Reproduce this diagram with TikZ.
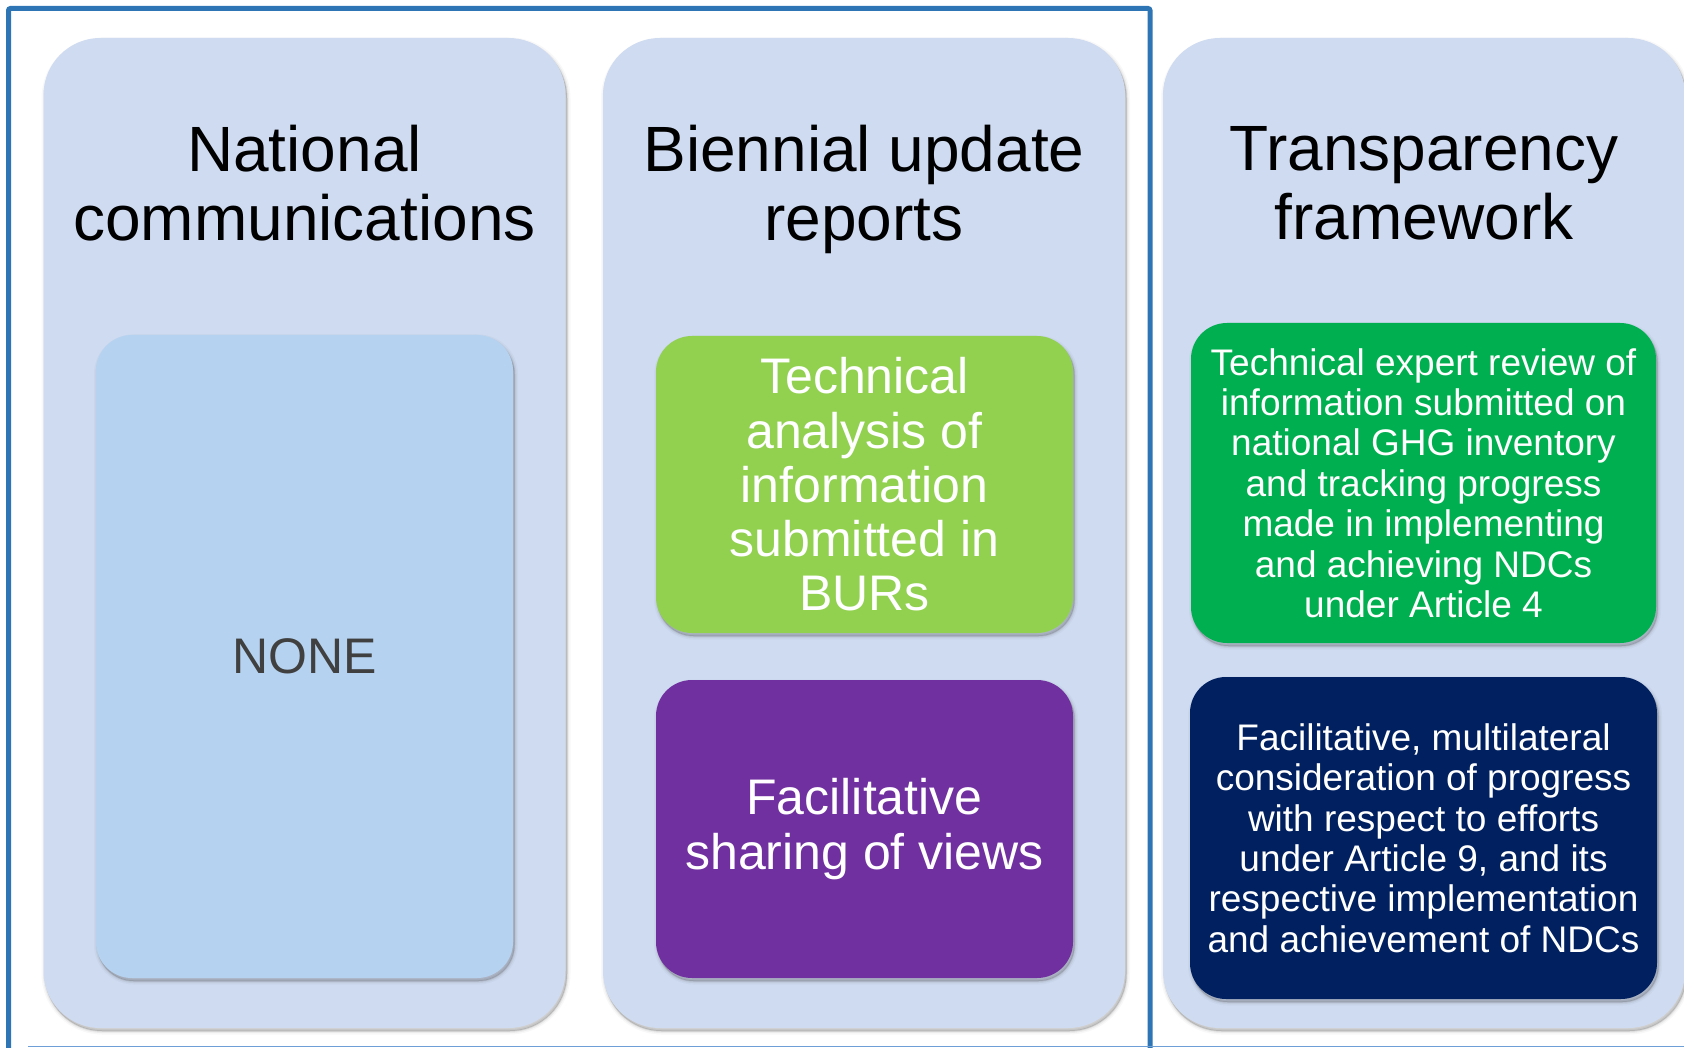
\documentclass[tikz,border=0pt]{standalone}
\usepackage{fontspec}
\setmainfont{Liberation Sans}
\definecolor{framecol}{RGB}{46,117,182}
\definecolor{linecol}{RGB}{110,160,215}
\definecolor{colfill}{RGB}{207,219,241}
\definecolor{nonefill}{RGB}{181,211,240}
\definecolor{lgreen}{RGB}{146,208,80}
\definecolor{purp}{RGB}{112,48,160}
\definecolor{dgreen}{RGB}{0,176,80}
\definecolor{navy}{RGB}{0,32,96}
\definecolor{nonetext}{RGB}{64,64,64}
\tikzset{
  shadowed/.style={
    preaction={fill=black!70, draw=black!70, line width=7pt, opacity=0.04, transform canvas={shift={(1.5pt,-3pt)}}},
    preaction={fill=black!70, draw=black!70, line width=4pt, opacity=0.07, transform canvas={shift={(1.5pt,-3pt)}}},
    preaction={fill=black!70, draw=black!70, line width=1.5pt, opacity=0.14, transform canvas={shift={(1.5pt,-3pt)}}}},
  colbox/.style={rectangle, rounded corners=57pt, fill=colfill, minimum width=522pt,
    minimum height=990pt, inner sep=0pt, outer sep=0pt, shadowed},
  title/.style={align=center, text=black, inner sep=0pt, font=\fontsize{64}{69}\selectfont},
  inbox/.style={rectangle, rounded corners=36pt, inner sep=0pt, outer sep=0pt, align=center,
    text=white, shadowed},
  big/.style={font=\fontsize{50}{54.3}\selectfont},
  small/.style={font=\fontsize{37}{40.4}\selectfont},
  frame/.style={draw=framecol, line width=5pt, rounded corners=2pt},
  baseline/.style={draw=linecol, line width=1.5pt}
}
\begin{document}
\begin{tikzpicture}[x=1pt, y=-1pt]
\useasboundingbox (0,0) rectangle (1684,1048);
% outer frame (bottom edge runs below the picture)
\coordinate (fa) at (8.5,1070);
\coordinate (fb) at (8.5,8.5);
\coordinate (fc) at (1150,8.5);
\coordinate (fd) at (1150,1070);
\draw[frame] (fa) -- (fb) -- (fc) -- (fd);
\coordinate (la) at (28,1046.5);
\coordinate (lb) at (1690,1046.5);
\draw[baseline] (la) -- (lb);
% columns
\node[colbox] (col1) at (304.5,533) {};
\node[colbox] (col2) at (864,533) {};
\node[colbox] (col3) at (1424,533) {};
% titles
\node[title] (t1) at (304.5,183) {National\\communications};
\node[title] (t2) at (864,189.2) {Biennial update\\reports};
\node[title] (t3) at (1424,183) {Transparency\\framework};
% inner boxes
\node[inbox, fill=nonefill, minimum width=417pt, minimum height=643pt, text=nonetext, big]
  (none) at (304.5,656.5) {NONE};
\node[inbox, fill=lgreen, minimum width=417pt, minimum height=297pt, big]
  (ta) at (864.5,484.5) {Technical\\analysis of\\information\\submitted in\\BURs};
\node[inbox, fill=purp, minimum width=417pt, minimum height=298pt, big]
  (fsv) at (864.5,829) {Facilitative\\sharing of views};
\node[inbox, fill=dgreen, minimum width=465pt, minimum height=320pt, small]
  (ter) at (1423.5,483) {Technical expert review of\\information submitted on\\national GHG inventory\\and tracking progress\\made in implementing\\and achieving NDCs\\under Article 4};
\node[inbox, fill=navy, minimum width=467pt, minimum height=322pt, small]
  (fmc) at (1423.5,838) {Facilitative, multilateral\\consideration of progress\\with respect to efforts\\under Article 9, and its\\respective implementation\\and achievement of NDCs};
\end{tikzpicture}
\end{document}
